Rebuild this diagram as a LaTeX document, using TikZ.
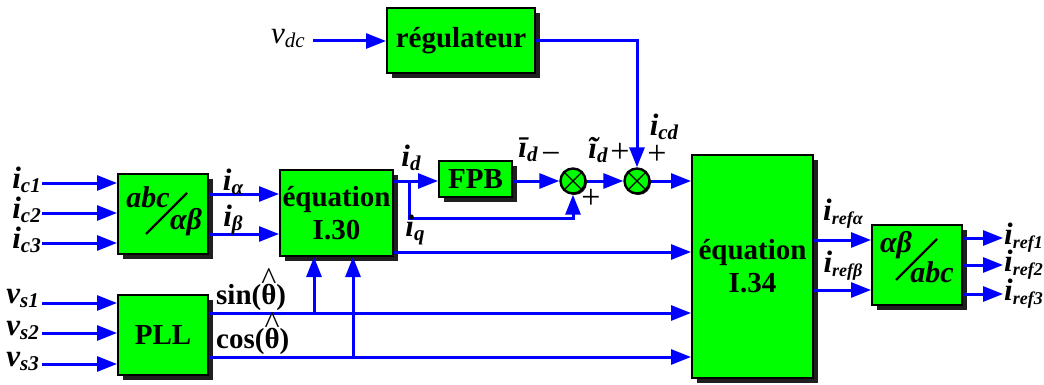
\documentclass[tikz,border=0pt]{standalone}
\usepackage{fontspec}
\setmainfont{Liberation Serif}
\usetikzlibrary{arrows.meta,shadows}
\definecolor{bgreen}{RGB}{0,255,0}
\definecolor{bblue}{RGB}{0,0,255}
\newcommand\sbi[2]{{\fontsize{31}{32}\selectfont\bfseries\itshape #1\raisebox{-4pt}{\fontsize{21}{22}\selectfont #2}}}
\newcommand\sbr[2]{{\fontsize{31}{32}\selectfont\bfseries\itshape #1\raisebox{-4pt}{\fontsize{18}{19}\selectfont #2}}}
\newcommand\sit[2]{{\fontsize{31}{32}\selectfont\itshape #1\raisebox{-4pt}{\fontsize{21}{22}\selectfont #2}}}
\newcommand\thhat{\ooalign{θ\cr\hidewidth\raisebox{15pt}{\fontsize{32}{32}\selectfont\mdseries\^{}}\hidewidth\cr}}
\begin{document}
\begin{tikzpicture}[x=1pt,y=-1pt,
 blk/.style={draw=black,line width=2pt,fill=bgreen,inner sep=0pt,
   font=\fontsize{29}{33}\selectfont\bfseries,align=center,
   drop shadow={shadow xshift=5pt,shadow yshift=-5pt,fill=black!88,opacity=1}},
 sumnode/.style={circle,draw=black,line width=2.4pt,fill=bgreen,minimum size=25pt,inner sep=0pt,
   drop shadow={shadow xshift=1.5pt,shadow yshift=-1.5pt,fill=black!88,opacity=1}},
 arr/.style={draw=bblue,line width=3pt,-{Triangle[length=20pt,width=15pt]}},
 lab/.style={inner sep=0pt},
 bt/.style={inner sep=0pt,font=\fontsize{29}{30}\selectfont\bfseries},
 bit/.style={inner sep=0pt,font=\fontsize{30}{30}\selectfont\bfseries\itshape},
 pm/.style={inner sep=0pt,font=\fontsize{34}{34}\selectfont}
]
\useasboundingbox (0,0) rectangle (1044,385);

% blocks
\node[blk,minimum width=90pt,minimum height=80pt] (abc) at (163,214) {};
\node[blk,minimum width=113pt,minimum height=86pt] (eq30) at (336.5,213) {équation\\I.30};
\node[blk,minimum width=90pt,minimum height=80pt] (pll) at (163,335) {PLL};
\node[blk,minimum width=148pt,minimum height=65pt] (reg) at (461,40.5) {régulateur};
\node[blk,minimum width=73pt,minimum height=36pt] (fpb) at (475.5,179) {FPB};
\node[sumnode] (s1) at (573,181) {};
\node[sumnode] (s2) at (637,181) {};
\node[blk,minimum width=121pt,minimum height=223pt] (eq34) at (752.5,266.5) {équation\\I.34};
\node[blk,minimum width=90pt,minimum height=80pt] (ab) at (917,265) {};

% block inner texts
\node[bit] (abcT) at (148,197) {abc};
\node[bit] (abcG) at (186,222) {αβ};
\draw[line width=2.2pt] (146,234) -- (187,193);
\node[bit] (abT) at (896,245) {αβ};
\node[bit] (abB) at (932,272) {abc};
\draw[line width=2.2pt] (896,280) -- (937,239);
\foreach \s in {s1,s2}{
  \draw[line width=1.3pt] (\s.north west) -- (\s.south east) (\s.north east) -- (\s.south west);
}

% input labels
\node[lab,anchor=east] (lc1) at (41,180) {\sbi{i}{c1}};
\node[lab,anchor=east] (lc2) at (41,210) {\sbi{i}{c2}};
\node[lab,anchor=east] (lc3) at (41,240) {\sbi{i}{c3}};
\node[lab,anchor=east] (lv1) at (39,298) {\sbi{v}{s1}};
\node[lab,anchor=east] (lv2) at (39,330) {\sbi{v}{s2}};
\node[lab,anchor=east] (lv3) at (39,361) {\sbi{v}{s3}};
\node[lab,anchor=east] (lvdc) at (305,38) {\sit{v}{dc}};

\coordinate (c1) at (42,183);
\coordinate (c2) at (42,213);
\coordinate (c3) at (42,243);
\coordinate (v1) at (42,303);
\coordinate (v2) at (42,333);
\coordinate (v3) at (42,364);
\coordinate (vdc) at (313,41);
\draw[arr] (c1) -- (c1 -| abc.west);
\draw[arr] (c2) -- (c2 -| abc.west);
\draw[arr] (c3) -- (c3 -| abc.west);
\draw[arr] (v1) -- (v1 -| pll.west);
\draw[arr] (v2) -- (v2 -| pll.west);
\draw[arr] (v3) -- (v3 -| pll.west);
\draw[arr] (vdc) -- (vdc -| reg.west);

% abc -> eq30
\coordinate (ia) at (208,194);
\coordinate (ib) at (208,234);
\draw[arr] (ia -| abc.east) -- (ia -| eq30.west);
\draw[arr] (ib -| abc.east) -- (ib -| eq30.west);
\node[lab] (lia) at (233,182) {\sbi{i}{α}};
\node[lab] (lib) at (233,220) {\sbi{i}{β}};

% id path
\coordinate (id0) at (393,181);
\coordinate (br) at (409,181);
\coordinate (brd) at (409,218);
\draw[arr] (id0 -| eq30.east) -- (id0 -| fpb.west);
\draw[arr] (br) -- (brd) -| (s1.south);
\draw[arr] (fpb.east |- s1) -- (s1.west);
\draw[arr] (s1.east) -- (s2.west);
\draw[arr] (s2.east) -- (s2 -| eq34.west);
\draw[arr] (reg.east) -| (s2.north);
\node[lab] (lid) at (411,158) {\sbi{i}{d}};
\node[lab] (lidb) at (528,150) {\sbi{\={\i}}{d}};
\node[pm] (m1) at (551,158) {−};
\node[lab] (lidt) at (598,150) {\sbi{\~{\i}}{d}};
\node[pm] (p1) at (620,153) {+};
\node[pm] (p2) at (657,155) {+};
\node[lab] (licd) at (664,127) {\sbi{i}{cd}};
\node[pm] (p3) at (591,199) {+};

% iq
\coordinate (iq) at (393,252);
\draw[arr] (iq -| eq30.east) -- (iq -| eq34.west);
\node[lab] (liq) at (415,230) {\sbi{i}{q}};

% sin / cos
\coordinate (sn) at (208,313);
\coordinate (cs) at (208,357);
\coordinate (snu) at (314,313);
\coordinate (csu) at (353,357);
\draw[arr] (sn -| pll.east) -- (sn -| eq34.west);
\draw[arr] (cs -| pll.east) -- (cs -| eq34.west);
\draw[arr] (snu) -- (snu |- eq30.south);
\draw[arr] (csu) -- (csu |- eq30.south);
\node[bt,anchor=west] (lsin) at (216,297) {sin(\thhat)};
\node[bt,anchor=west] (lcos) at (216,341) {cos(\thhat)};

% eq34 -> ab
\coordinate (ra) at (813,240);
\coordinate (rb) at (813,290);
\draw[arr] (ra -| eq34.east) -- (ra -| ab.west);
\draw[arr] (rb -| eq34.east) -- (rb -| ab.west);
\node[lab] (lra) at (843,214) {\sbr{i}{refα}};
\node[lab] (lrb) at (843,266) {\sbr{i}{refβ}};

% outputs
\coordinate (o1) at (1003,238);
\coordinate (o2) at (1003,265);
\coordinate (o3) at (1003,294);
\draw[arr] (o1 -| ab.east) -- (o1);
\draw[arr] (o2 -| ab.east) -- (o2);
\draw[arr] (o3 -| ab.east) -- (o3);
\node[lab,anchor=west] (lo1) at (1004,238) {\sbr{i}{ref1}};
\node[lab,anchor=west] (lo2) at (1004,265) {\sbr{i}{ref2}};
\node[lab,anchor=west] (lo3) at (1004,294) {\sbr{i}{ref3}};
\end{tikzpicture}
\end{document}
